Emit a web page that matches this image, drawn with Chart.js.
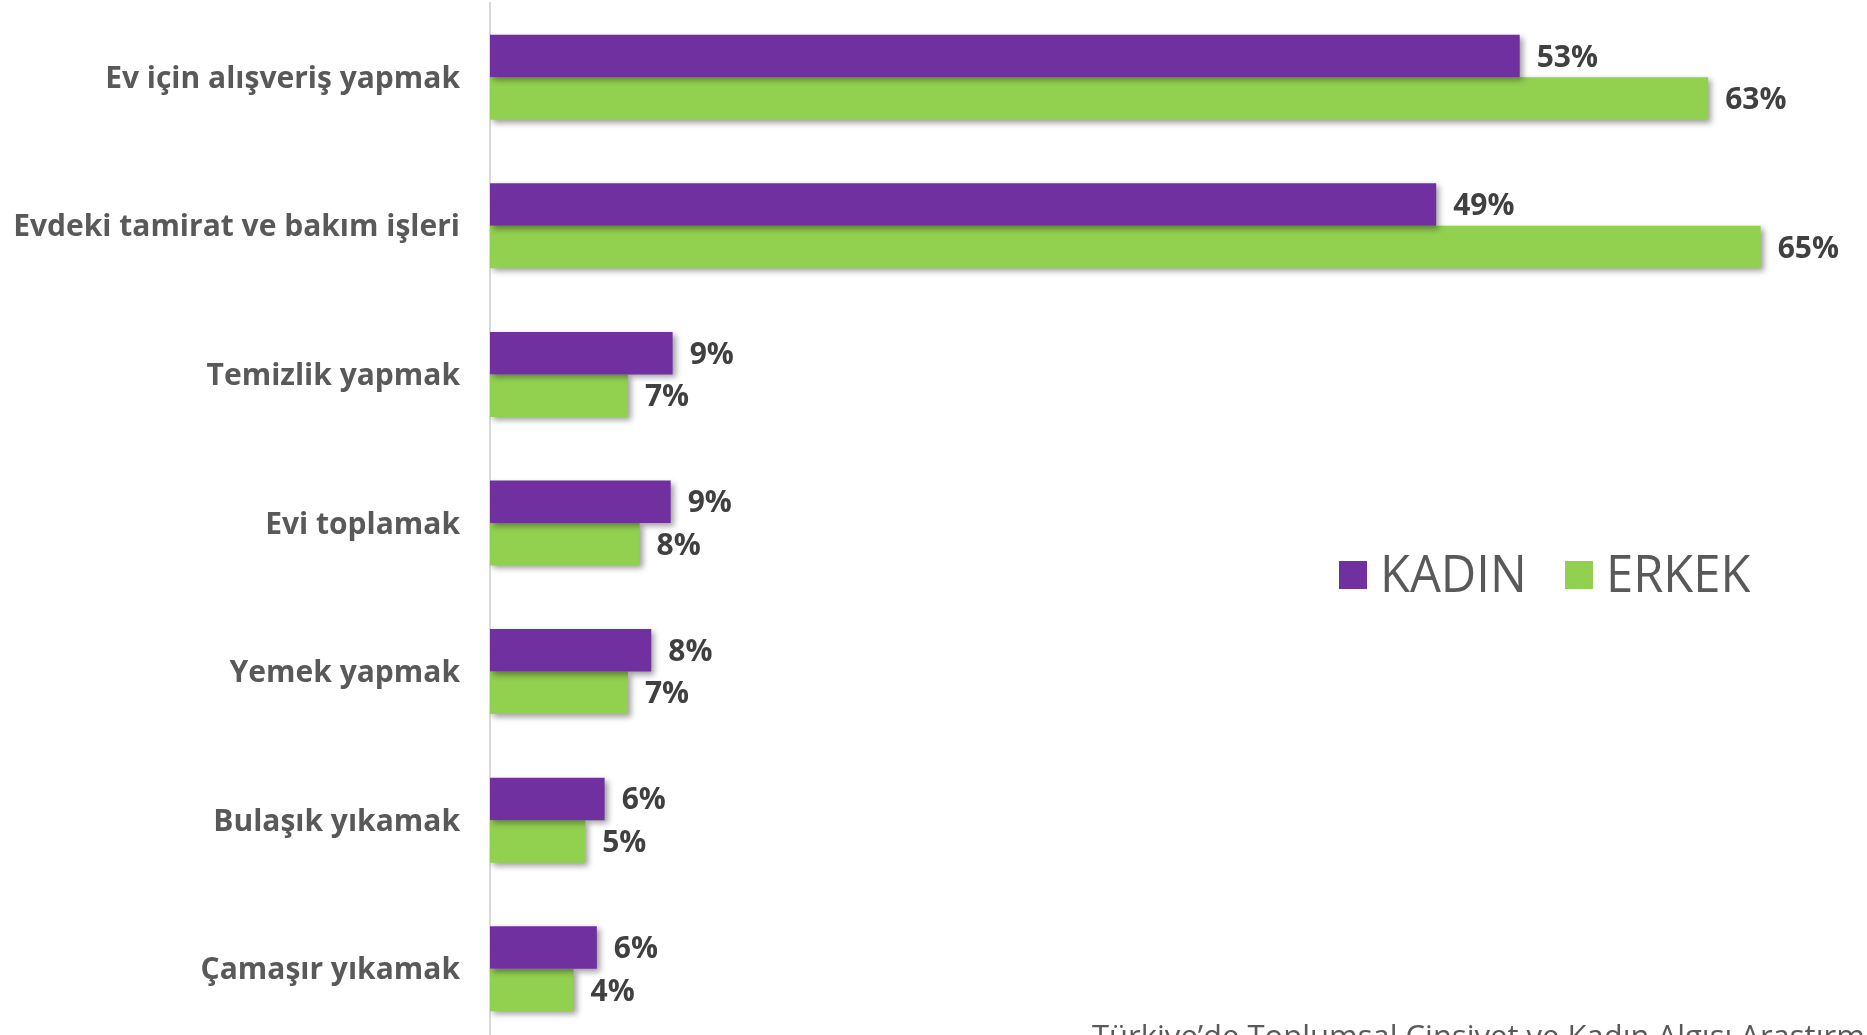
<!DOCTYPE html>
<html>
<head>
<meta charset="utf-8">
<script src="https://cdn.jsdelivr.net/npm/chart.js@4.4.1/dist/chart.umd.min.js"></script>
<style>
  html, body { margin: 0; padding: 0; background: #fff; overflow: hidden; width: 1867px; height: 1035px; }
  .wrap { position: absolute; left: 0; top: 0; width: 1867px; height: 1046px; }
  .kaynak { position: absolute; left: 1092px; top: 1020px; white-space: nowrap;
    font-family: "Liberation Sans Narrow", "Open Sans", sans-serif; font-size: 31px; line-height: 31px; color: #595959; }
</style>
</head>
<body>
<div class="wrap"><canvas id="barChart"></canvas></div>
<div class="kaynak">Türkiye’de Toplumsal Cinsiyet ve Kadın Algısı Araştırması</div>
<script>
const kategoriler = [
  'Ev için alışveriş yapmak',
  'Evdeki tamirat ve bakım işleri',
  'Temizlik yapmak',
  'Evi toplamak',
  'Yemek yapmak',
  'Bulaşık yıkamak',
  'Çamaşır yıkamak'
];
const kadin = [53.0, 48.7, 9.4, 9.3, 8.3, 5.9, 5.5];
const erkek = [62.7, 65.4, 7.1, 7.7, 7.1, 4.9, 4.3];
const seriler = ['KADIN', 'ERKEK'];
const renkler = ['#7030A0', '#92D050'];

// golge + yuzde etiketleri
const etiketPlugin = {
  id: 'etiketler',
  beforeDatasetsDraw(chart) {
    const ctx = chart.ctx;
    ctx.save();
    ctx.shadowColor = 'rgba(0,0,0,0.38)';
    ctx.shadowBlur = 6;
    ctx.shadowOffsetX = 3;
    ctx.shadowOffsetY = 3;
  },
  afterDatasetsDraw(chart) {
    const ctx = chart.ctx;
    ctx.restore();
    ctx.save();
    ctx.font = 'bold 30px "Open Sans"';
    ctx.fillStyle = '#404040';
    ctx.textAlign = 'left';
    ctx.textBaseline = 'middle';
    chart.data.datasets.forEach((ds, i) => {
      chart.getDatasetMeta(i).data.forEach((bar, j) => {
        ctx.fillText(Math.round(ds.data[j]) + '%', bar.x + 17, bar.y + 2);
      });
    });
    ctx.restore();
  }
};

// sag ortadaki lejant
const lejantPlugin = {
  id: 'lejant',
  afterDraw(chart) {
    const ctx = chart.ctx;
    const xs = [1339, 1565];
    ctx.save();
    ctx.font = '52px "Open Sans"';
    ctx.textBaseline = 'alphabetic';
    seriler.forEach((ad, i) => {
      ctx.fillStyle = renkler[i];
      ctx.fillRect(xs[i], 561, 28, 28);
      ctx.fillStyle = '#595959';
      ctx.save();
      ctx.translate(xs[i] + 41, 592);
      ctx.scale(0.94, 1);
      ctx.fillText(ad, 0, 0);
      ctx.restore();
    });
    ctx.restore();
  }
};

const ctx = document.getElementById('barChart').getContext('2d');
new Chart(ctx, {
  type: 'bar',
  data: {
    labels: kategoriler,
    datasets: [
      { label: seriler[0], data: kadin, backgroundColor: renkler[0], borderWidth: 0 },
      { label: seriler[1], data: erkek, backgroundColor: renkler[1], borderWidth: 0 }
    ]
  },
  options: {
    indexAxis: 'y',
    responsive: true,
    maintainAspectRatio: false,
    animation: false,
    categoryPercentage: 0.572,
    barPercentage: 1,
    layout: { padding: { top: 3, bottom: 3, right: 17, left: 0 } },
    plugins: {
      legend: { display: false },
      tooltip: { enabled: false }
    },
    scales: {
      x: { display: false, min: 0, max: 70 },
      y: {
        grid: { display: false, drawTicks: false },
        border: { display: true, color: '#d9d9d9', width: 2 },
        ticks: {
          padding: 30,
          labelOffset: 2,
          color: '#595959',
          font: { family: '"Open Sans"', size: 30, weight: 'bold' }
        },
        afterFit(scale) {
          scale.width = 490;
          scale.paddingTop = 0;
          scale.paddingBottom = 0;
        }
      }
    }
  },
  plugins: [etiketPlugin, lejantPlugin]
});
</script>
</body>
</html>
